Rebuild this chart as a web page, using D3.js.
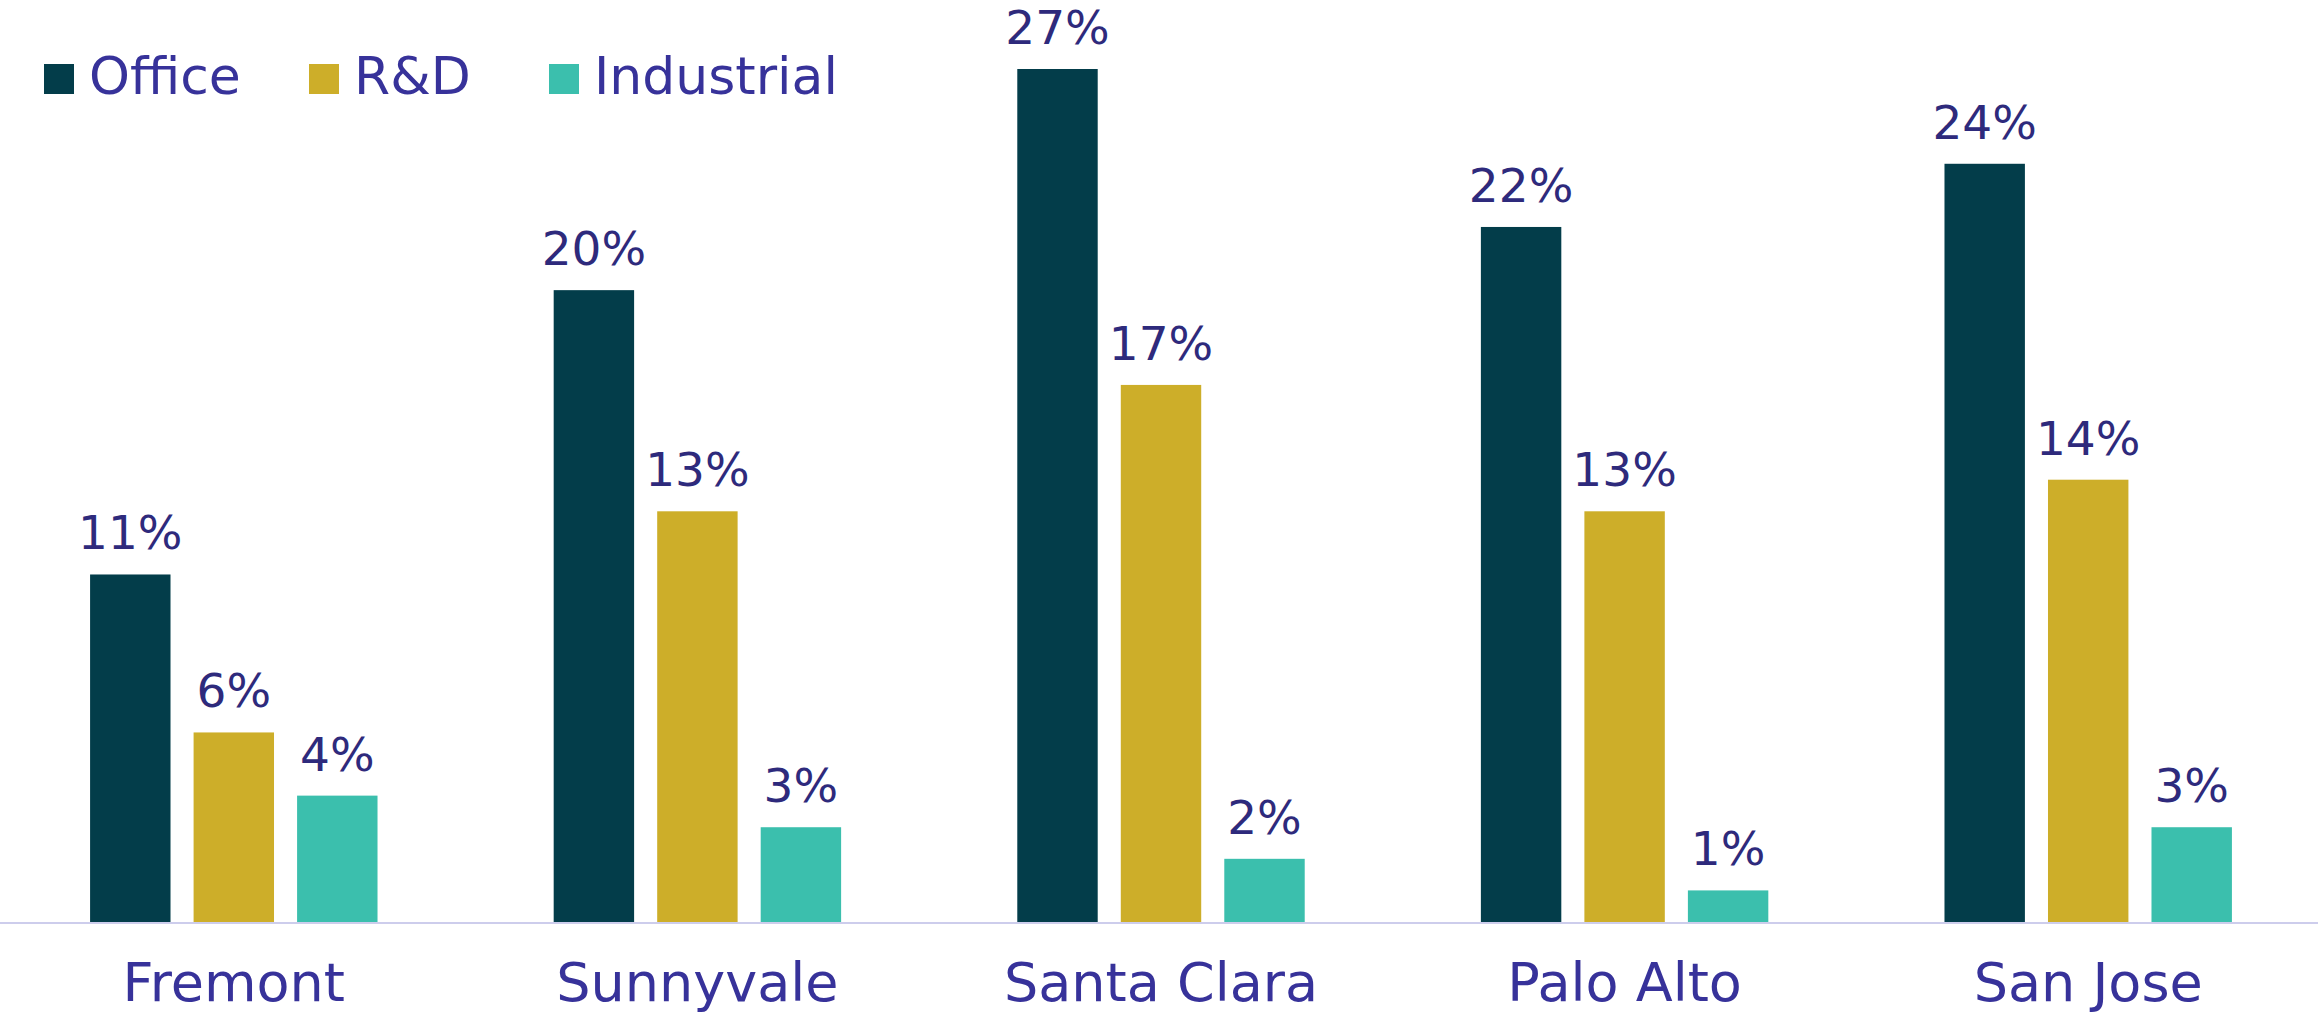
<!DOCTYPE html>
<html>
<head>
  <meta charset="utf-8">
  <title>Vacancy by submarket</title>
  <script src="https://d3js.org/d3.v7.min.js"></script>
  <style>
    html, body { margin: 0; padding: 0; background: #fff; overflow: hidden; }
    svg { display: block; font-family: "DejaVu Sans", sans-serif; }
  </style>
</head>
<body>
  <div id="chart"></div>
  <script>
  // data
  const cities = ['Fremont', 'Sunnyvale', 'Santa Clara', 'Palo Alto', 'San Jose'];
  const seriesNames = ['Office', 'R&D', 'Industrial'];
  const office = [11, 20, 27, 22, 24];
  const rnd = [6, 13, 17, 13, 14];
  const industrial = [4, 3, 2, 1, 3];
  const seriesValues = [office, rnd, industrial];

  const width = 2318,
    height = 1016,
    baseline = 922;
  const colors = ['#033d4a', '#cdae29', '#3bbfad'];
  const textColor = '#37329a';
  const labelColor = '#2e2a7c';

  const rows = [];
  cities.forEach(function(c, i) {
    seriesNames.forEach(function(s, j) {
      rows.push({city: c, series: s, value: seriesValues[j][i]});
    });
  });

  const svg = d3.select('#chart')
    .append('svg')
    .attr('width', width)
    .attr('height', height);

  const x0 = d3.scaleBand()
    .domain(cities)
    .range([2, width + 2])
    .paddingInner(0.38)
    .paddingOuter(0.19);

  const x1 = d3.scaleBand()
    .domain(seriesNames)
    .range([0, x0.bandwidth()])
    .paddingInner(0.223)
    .paddingOuter(0);

  const y = d3.scaleLinear()
    .domain([0, 27])
    .range([baseline, 69]);

  const color = d3.scaleOrdinal()
    .domain(seriesNames)
    .range(colors);

  // bars
  svg.append('g')
    .selectAll('rect')
    .data(rows)
    .enter()
    .append('rect')
    .attr('x', function(d) { return x0(d.city) + x1(d.series); })
    .attr('y', function(d) { return y(d.value); })
    .attr('width', x1.bandwidth())
    .attr('height', function(d) { return baseline - y(d.value); })
    .attr('fill', function(d) { return color(d.series); });

  // value labels
  svg.append('g')
    .selectAll('text')
    .data(rows)
    .enter()
    .append('text')
    .attr('x', function(d) { return x0(d.city) + x1(d.series) + x1.bandwidth() / 2; })
    .attr('y', function(d) { return y(d.value) - 25; })
    .attr('text-anchor', 'middle')
    .attr('font-size', '47px')
    .attr('fill', labelColor)
    .text(function(d) { return d.value + '%'; });

  // baseline axis, labels kept just inside the bottom edge
  const xAxis = svg.append('g')
    .attr('transform', 'translate(0,' + baseline + ')')
    .call(d3.axisBottom(x0).tickSize(0).tickPadding(79));
  xAxis.select('.domain')
    .attr('d', 'M0,1H' + width)
    .attr('stroke', '#cdcdec')
    .attr('stroke-width', 2);
  xAxis.selectAll('text')
    .attr('font-family', '"DejaVu Sans", sans-serif')
    .attr('font-size', '54px')
    .attr('fill', textColor)
    .attr('dy', 0);

  // legend
  const legendX = [44, 309, 549];
  const legend = svg.append('g')
    .selectAll('g')
    .data(seriesNames)
    .enter()
    .append('g')
    .attr('transform', function(d, i) { return 'translate(' + legendX[i] + ',64)'; });
  legend.append('rect')
    .attr('width', 30)
    .attr('height', 30)
    .attr('fill', function(d) { return color(d); });
  legend.append('text')
    .attr('x', 45)
    .attr('y', 30)
    .attr('font-size', '52px')
    .attr('fill', textColor)
    .text(function(d) { return d; });
  </script>
</body>
</html>
